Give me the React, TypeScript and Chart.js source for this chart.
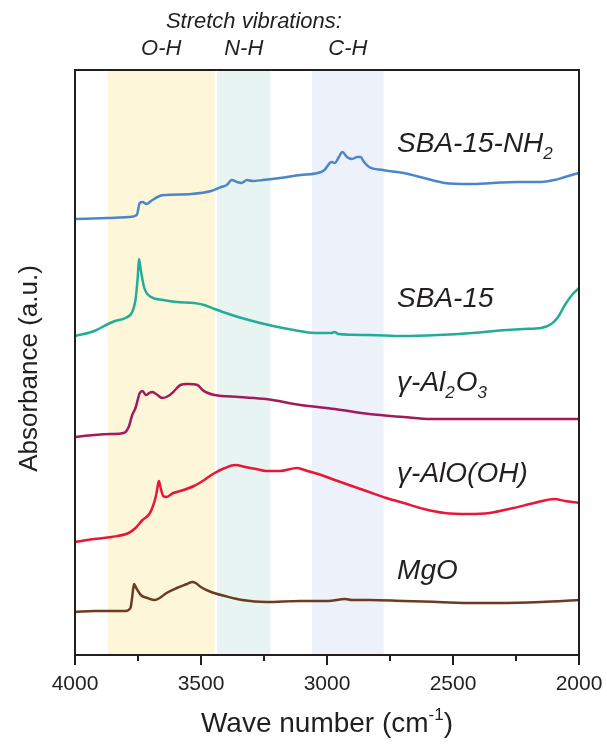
import React, { useEffect, useRef } from 'react';
import { Chart, registerables } from 'chart.js';

Chart.register(...registerables);

const FONT = '"Liberation Sans", Arial, Helvetica, sans-serif';
const INK = '#231f20';

// ---- Data (wave number in cm^-1, absorbance in a.u., offset stacked) ----
const wnNH2 = [4000, 3870, 3785, 3755, 3743, 3732, 3716, 3698, 3664, 3637, 3540, 3460, 3420, 3398, 3378, 3357, 3340, 3317, 3296, 3255, 3187, 3105, 3037, 3010, 2989, 2980, 2969, 2953, 2939, 2921, 2901, 2880, 2867, 2853, 2833, 2778, 2696, 2615, 2533, 2437, 2342, 2247, 2151, 2097, 2056, 2000];
const absNH2 = [4.36, 4.37, 4.38, 4.40, 4.52, 4.53, 4.51, 4.54, 4.59, 4.60, 4.61, 4.64, 4.68, 4.70, 4.75, 4.73, 4.72, 4.75, 4.74, 4.75, 4.77, 4.80, 4.82, 4.85, 4.92, 4.93, 4.92, 4.98, 5.03, 4.98, 4.96, 4.98, 4.98, 4.93, 4.88, 4.85, 4.82, 4.77, 4.72, 4.71, 4.72, 4.73, 4.73, 4.75, 4.78, 4.82];

const wnSBA = [4000, 3923, 3869, 3841, 3800, 3773, 3760, 3751, 3746, 3739, 3725, 3698, 3650, 3596, 3528, 3487, 3446, 3378, 3296, 3214, 3132, 3051, 2983, 2969, 2955, 2833, 2696, 2560, 2424, 2287, 2219, 2151, 2110, 2083, 2056, 2028, 2000];
const absSBA = [3.19, 3.24, 3.31, 3.34, 3.37, 3.43, 3.55, 3.78, 3.96, 3.85, 3.67, 3.58, 3.55, 3.53, 3.52, 3.50, 3.46, 3.40, 3.34, 3.29, 3.25, 3.22, 3.22, 3.23, 3.21, 3.20, 3.19, 3.20, 3.22, 3.25, 3.26, 3.27, 3.31, 3.38, 3.50, 3.60, 3.67];

const wnAl2O3 = [4000, 3923, 3855, 3807, 3787, 3773, 3760, 3743, 3732, 3719, 3705, 3694, 3678, 3653, 3630, 3610, 3582, 3555, 3514, 3494, 3473, 3446, 3350, 3242, 3105, 2969, 2833, 2696, 2587, 2424, 2287, 2151, 2000];
const absAl2O3 = [2.18, 2.20, 2.21, 2.22, 2.28, 2.40, 2.47, 2.62, 2.64, 2.60, 2.62, 2.63, 2.61, 2.57, 2.59, 2.63, 2.70, 2.71, 2.70, 2.65, 2.62, 2.60, 2.58, 2.56, 2.50, 2.46, 2.41, 2.38, 2.36, 2.36, 2.36, 2.36, 2.36];

const wnAlOOH = [4000, 3923, 3855, 3787, 3760, 3732, 3705, 3689, 3678, 3671, 3667, 3661, 3650, 3637, 3610, 3569, 3528, 3487, 3446, 3405, 3364, 3323, 3282, 3242, 3187, 3119, 3078, 3023, 2969, 2901, 2833, 2764, 2696, 2615, 2533, 2437, 2356, 2260, 2178, 2097, 2056, 2000];
const absAlOOH = [1.13, 1.16, 1.18, 1.22, 1.27, 1.35, 1.41, 1.50, 1.60, 1.70, 1.74, 1.68, 1.59, 1.58, 1.62, 1.65, 1.69, 1.75, 1.82, 1.87, 1.90, 1.88, 1.86, 1.84, 1.84, 1.87, 1.84, 1.80, 1.75, 1.69, 1.63, 1.57, 1.52, 1.46, 1.42, 1.41, 1.42, 1.47, 1.52, 1.56, 1.54, 1.52];

const wnMgO = [4000, 3923, 3855, 3800, 3780, 3773, 3766, 3757, 3739, 3712, 3684, 3664, 3637, 3596, 3555, 3535, 3521, 3501, 3460, 3405, 3337, 3242, 3105, 2996, 2928, 2901, 2833, 2696, 2560, 2424, 2315, 2151, 2000];
const absMgO = [0.43, 0.44, 0.44, 0.44, 0.47, 0.58, 0.71, 0.67, 0.60, 0.57, 0.55, 0.57, 0.62, 0.67, 0.71, 0.73, 0.72, 0.68, 0.63, 0.59, 0.55, 0.53, 0.54, 0.54, 0.56, 0.55, 0.55, 0.54, 0.53, 0.52, 0.52, 0.53, 0.55];

// Series labels: [main text, subscript, main, subscript ...]
const seriesLabels = [
  ['SBA-15-NH', '2'],
  ['SBA-15'],
  ['γ-Al', '2', 'O', '3'],
  ['γ-AlO(OH)'],
  ['MgO'],
];
const labelBaselines = [5.03, 3.48, 2.64, 1.73, 0.76];
const labelWn = 2722;
const seriesColors = ['#4a86c8', '#22ae96', '#a3195b', '#e8173a', '#6b3b22'];

// Stretch vibration bands
const bandNames = ['O-H', 'N-H', 'C-H'];
const bandStart = [3870, 3436, 3060];
const bandEnd = [3446, 3225, 2775];
const bandColors = ['#fdf6d9', '#e7f4f1', '#edf1f9'];
const bandHeader = 'Stretch vibrations:';
const bandHeaderWn = 3290;

const xTickValues = [4000, 3500, 3000, 2500, 2000];

const toPoints = (xs: number[], ys: number[]) => xs.map((x, i) => ({ x, y: ys[i] }));

const decorPlugin = {
  id: 'decor',
  beforeDatasetsDraw(chart: any) {
    const { ctx, chartArea, scales } = chart;
    const xs = scales.x;
    ctx.save();
    for (let i = 0; i < bandStart.length; i++) {
      const a = xs.getPixelForValue(bandStart[i]);
      const b = xs.getPixelForValue(bandEnd[i]);
      ctx.fillStyle = bandColors[i];
      ctx.fillRect(a, chartArea.top, b - a, chartArea.bottom - chartArea.top);
    }
    ctx.restore();
  },
  afterDraw(chart: any) {
    const { ctx, chartArea, scales } = chart;
    const xs = scales.x;
    const ys = scales.y;
    ctx.save();
    // frame
    ctx.strokeStyle = INK;
    ctx.lineWidth = 2;
    ctx.strokeRect(chartArea.left, chartArea.top, chartArea.right - chartArea.left, chartArea.bottom - chartArea.top);
    // tick marks
    for (let v = 2000; v <= 4000; v += 250) {
      const px = Math.round(xs.getPixelForValue(v));
      const len = v % 500 === 0 ? 10 : 6;
      ctx.beginPath();
      ctx.moveTo(px, chartArea.bottom);
      ctx.lineTo(px, chartArea.bottom + len);
      ctx.stroke();
    }
    ctx.fillStyle = INK;
    // Band annotations
    ctx.textAlign = 'center';
    ctx.textBaseline = 'alphabetic';
    ctx.font = `italic 22px ${FONT}`;
    ctx.fillText(bandHeader, xs.getPixelForValue(bandHeaderWn), 28);
    for (let i = 0; i < bandNames.length; i++) {
      const c = (xs.getPixelForValue(bandStart[i]) + xs.getPixelForValue(bandEnd[i])) / 2;
      ctx.fillText(bandNames[i], c, 55);
    }
    // Series labels
    ctx.textAlign = 'left';
    const lx = xs.getPixelForValue(labelWn);
    for (let i = 0; i < seriesLabels.length; i++) {
      const by = ys.getPixelForValue(labelBaselines[i]);
      let x = lx;
      seriesLabels[i].forEach((part, j) => {
        const sub = j % 2 === 1;
        ctx.font = sub ? `italic 17px ${FONT}` : `italic 28px ${FONT}`;
        ctx.fillText(part, x, sub ? by + 7 : by);
        x += ctx.measureText(part).width + (sub ? 1 : 0);
      });
    }
    // Axis titles
    const big = `28px ${FONT}`;
    const small = `17px ${FONT}`;
    ctx.font = big;
    const cx = (chartArea.left + chartArea.right) / 2;
    const main = 'Wave number (cm';
    const wMain = ctx.measureText(main).width;
    ctx.font = small;
    const wSup = ctx.measureText('-1').width;
    ctx.font = big;
    const wEnd = ctx.measureText(')').width;
    let tx = cx - (wMain + wSup + wEnd) / 2;
    ctx.textAlign = 'left';
    ctx.fillText(main, tx, 732);
    tx += wMain;
    ctx.font = small;
    ctx.fillText('-1', tx, 720);
    tx += wSup;
    ctx.font = big;
    ctx.fillText(')', tx, 732);

    ctx.font = `26px ${FONT}`;
    ctx.translate(37, (chartArea.top + chartArea.bottom) / 2 + 6);
    ctx.rotate(-Math.PI / 2);
    ctx.textAlign = 'center';
    ctx.fillText('Absorbance (a.u.)', 0, 0);
    ctx.restore();
  },
};

export default function App() {
  const ref = useRef<HTMLCanvasElement | null>(null);
  useEffect(() => {
    document.body.style.margin = '0';
    const canvas = ref.current;
    if (!canvas) return;
    const series = [
      [wnNH2, absNH2],
      [wnSBA, absSBA],
      [wnAl2O3, absAl2O3],
      [wnAlOOH, absAlOOH],
      [wnMgO, absMgO],
    ];
    const chart = new Chart(canvas, {
      type: 'line',
      data: {
        datasets: series.map(([xs, ys], i) => ({
          label: seriesLabels[i].join(''),
          data: toPoints(xs as number[], ys as number[]),
          borderColor: seriesColors[i],
          borderWidth: 2.5,
          pointRadius: 0,
          fill: false,
          cubicInterpolationMode: 'monotone' as const,
          borderJoinStyle: 'round' as const,
          borderCapStyle: 'round' as const,
        })),
      },
      options: {
        animation: false,
        responsive: false,
        maintainAspectRatio: false,
        layout: { padding: { left: 75, top: 70, right: 28, bottom: 0 } },
        plugins: { legend: { display: false }, tooltip: { enabled: false } },
        scales: {
          x: {
            type: 'linear',
            reverse: true,
            min: 2000,
            max: 4000,
            grid: { display: false, drawTicks: false },
            border: { display: false },
            afterBuildTicks: (scale: any) => {
              scale.ticks = xTickValues.map((v) => ({ value: v }));
            },
            afterFit: (scale: any) => {
              scale.height = 89;
              scale.paddingLeft = 0;
              scale.paddingRight = 0;
            },
            ticks: {
              autoSkip: false,
              maxRotation: 0,
              padding: 17,
              color: INK,
              font: { family: FONT, size: 21 },
              callback: (v: any) => String(v),
            },
          },
          y: {
            display: false,
            min: 0,
            max: 5.85,
          },
        },
      },
      plugins: [decorPlugin],
    });
    return () => chart.destroy();
  }, []);
  return (
    <div style={{ position: 'absolute', left: 0, top: 0, width: 607, height: 744, background: '#fff' }}>
      <canvas ref={ref} width={607} height={744} style={{ display: 'block' }} />
    </div>
  );
}
